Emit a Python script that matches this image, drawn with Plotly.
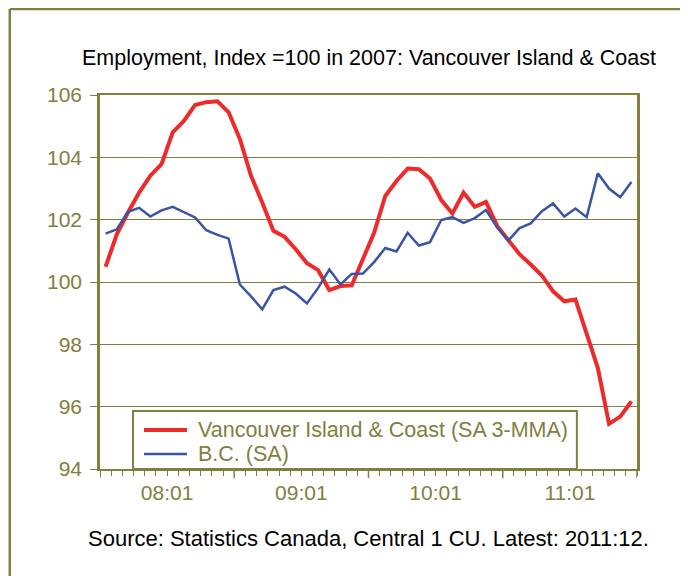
import plotly.graph_objects as go

# Monthly data, 2008:01 .. 2011:12
months = [f"{y}:{m:02d}" for y in range(2008, 2012) for m in range(1, 13)]

vi_coast = [100.49, 101.53, 102.23, 102.87, 103.41, 103.78, 104.80, 105.17, 105.68, 105.77,
            105.80, 105.44, 104.59, 103.41, 102.55, 101.64, 101.45, 101.05, 100.60, 100.38,
            99.74, 99.87, 99.89, 100.72, 101.58, 102.76, 103.24, 103.64, 103.62, 103.32,
            102.63, 102.20, 102.87, 102.41, 102.57, 101.80, 101.37, 100.89, 100.56, 100.21,
            99.70, 99.38, 99.44, 98.38, 97.24, 95.45, 95.68, 96.17]

bc = [101.55, 101.69, 102.25, 102.38, 102.10, 102.30, 102.41, 102.25, 102.07, 101.66,
      101.51, 101.39, 99.92, 99.54, 99.12, 99.74, 99.85, 99.63, 99.31, 99.81,
      100.40, 99.92, 100.26, 100.27, 100.64, 101.09, 100.98, 101.58, 101.17, 101.28,
      101.99, 102.08, 101.90, 102.05, 102.31, 101.75, 101.33, 101.73, 101.88, 102.27,
      102.52, 102.10, 102.36, 102.08, 103.49, 103.00, 102.72, 103.21]

series_names = ["Vancouver Island & Coast (SA 3-MMA)", "B.C. (SA)"]
tick_labels = ["08:01", "09:01", "10:01", "11:01"]
y_ticks = [94, 96, 98, 100, 102, 104, 106]

OLIVE = "#808040"
RED = "#ee2b2b"
BLUE = "#3a54a4"
FONT = "Liberation Sans, Arial, sans-serif"

xs = list(range(len(months)))
label_pos = [months.index("20" + t) + 5.5 for t in tick_labels]
year_bounds = [months.index("20" + t) - 0.5 for t in tick_labels] + [len(months) - 0.5]

fig = go.Figure()
fig.add_trace(go.Scatter(x=xs, y=vi_coast, mode="lines", name=series_names[0],
                         line=dict(color=RED, width=4), customdata=months, showlegend=False,
                         hovertemplate="%{customdata}: %{y}<extra></extra>"))
fig.add_trace(go.Scatter(x=xs, y=bc, mode="lines", name=series_names[1],
                         line=dict(color=BLUE, width=2.5), customdata=months, showlegend=False,
                         hovertemplate="%{customdata}: %{y}<extra></extra>"))

shapes = []
for b in year_bounds:
    shapes.append(dict(type="line", xref="x", yref="paper", ysizemode="pixel", yanchor=0,
                       x0=b, x1=b, y0=0, y1=-9, line=dict(color=OLIVE, width=1.5)))
# outer frame (top and left edges)
shapes.append(dict(type="line", xref="paper", yref="paper", x0=-0.168, x1=1.2, y0=1.23, y1=1.23,
                   line=dict(color=OLIVE, width=2.5)))
shapes.append(dict(type="line", xref="paper", yref="paper", x0=-0.168, x1=-0.168, y0=1.23, y1=-0.3,
                   line=dict(color=OLIVE, width=2.5)))

# legend box (drawn by hand to match the original's compact layout)
shapes.append(dict(type="rect", xref="paper", yref="paper", x0=0.0615, x1=0.888, y0=0.0, y1=0.155,
                   fillcolor="white", line=dict(color=OLIVE, width=2), layer="above"))
legend_rows = [(0.1043, RED, 4), (0.0401, BLUE, 2.5)]
annotations = []
for name, (yy, col, w) in zip(series_names, legend_rows):
    shapes.append(dict(type="line", xref="paper", yref="paper", x0=0.0819, x1=0.162, y0=yy, y1=yy,
                       line=dict(color=col, width=w), layer="above"))
    annotations.append(dict(text=name, xref="paper", yref="paper", x=0.1788, y=yy,
                            xanchor="left", yanchor="middle", showarrow=False,
                            font=dict(family=FONT, size=21.5, color=OLIVE)))

annotations += [
    dict(text="Employment, Index =100 in 2007: Vancouver Island & Coast", xref="paper", yref="paper",
         x=0.5, y=1.0, yanchor="middle", yshift=37, showarrow=False,
         font=dict(family=FONT, size=21.5, color="#000000")),
    dict(text="Source: Statistics Canada, Central 1 CU. Latest: 2011:12.", xref="paper", yref="paper",
         x=0.5, y=0.0, yanchor="middle", yshift=-69, showarrow=False,
         font=dict(family=FONT, size=22, color="#000000")),
]

fig.update_layout(
    width=680, height=568,
    margin=dict(l=92, r=51, t=87, b=107),
    paper_bgcolor="white", plot_bgcolor="white",
    showlegend=False,
    shapes=shapes, annotations=annotations,
    xaxis=dict(range=[-0.5, len(months) - 0.5], tickmode="array", tickvals=label_pos,
               ticktext=tick_labels, ticks="", showgrid=False, zeroline=False,
               showline=True, linecolor=OLIVE, linewidth=2, mirror=True,
               ticklabelstandoff=4,
               tickfont=dict(family=FONT, size=21, color=OLIVE),
               minor=dict(ticks="outside", ticklen=5, tickcolor=OLIVE, tickwidth=1,
                          tickmode="linear", tick0=-0.5, dtick=1)),
    yaxis=dict(range=[94, 106], tickmode="array", tickvals=y_ticks,
               ticks="outside", ticklen=7, tickcolor=OLIVE, tickwidth=1,
               showgrid=True, gridcolor=OLIVE, gridwidth=1, zeroline=False,
               showline=True, linecolor=OLIVE, linewidth=2.5, mirror=True,
               ticklabelstandoff=4,
               tickfont=dict(family=FONT, size=21, color=OLIVE)),
)

fig.write_html("out.html")
